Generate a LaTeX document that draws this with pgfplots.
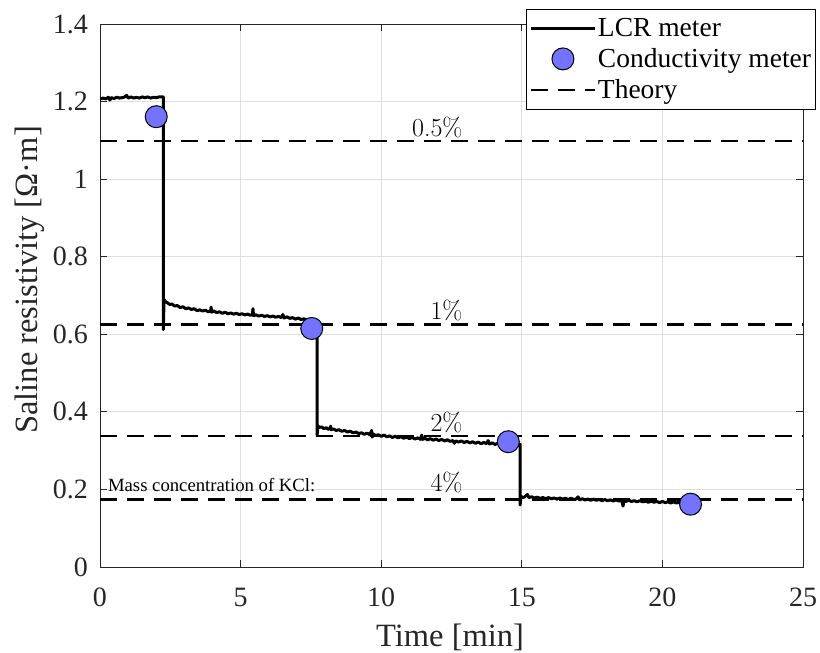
\documentclass[border=0pt]{standalone}
\usepackage{pgfplots}
\pgfplotsset{compat=1.18}
\usepackage{fontspec}
\setmainfont{Liberation Serif}
\definecolor{mkfill}{RGB}{115,115,255}
\definecolor{axgray}{RGB}{38,38,38}
\pgfplotsset{
  lineleg/.style={legend image code/.code={\draw[##1] (0pt,0pt) -- (64pt,0pt);}},
  markleg/.style={legend image code/.code={\draw[##1] plot coordinates {(32pt,0pt)};}},
}
\newcommand{\lmr}{\usefont{TU}{lmr}{m}{n}}
\begin{document}
\begin{tikzpicture}
\begin{axis}[
  scale only axis, width=703pt, height=543pt,
  xmin=0, xmax=25, ymin=0, ymax=1.4,
  xtick={0,5,10,15,20,25},
  ytick={0,0.2,0.4,0.6,0.8,1,1.2,1.4},
  grid=major, grid style={black!13, line width=0.8pt},
  axis line style={axgray, line width=0.9pt},
  tick style={axgray, line width=0.9pt},
  major tick length=7pt, tick align=inside,
  /pgf/number format/assume math mode=true,
  ticklabel style={font=\fontsize{28}{32}\selectfont, text=axgray},
  xticklabel style={anchor=base, yshift=-40pt, inner sep=0pt},
  yticklabel style={anchor=east, xshift=-12pt, inner sep=0pt},
  xlabel={Time [min]},
  ylabel={Saline resistivity [Ω·m]},
  label style={font=\fontsize{32.5}{36}\selectfont, text=axgray},
  xlabel style={at={(axis description cs:0.498,-0.1455)}, anchor=base},
  ylabel style={at={(axis description cs:-0.1,0.5286)}, anchor=center, rotate=0},
  legend cell align=left,
  legend style={at={(1.0185,1.0277)}, anchor=north east, draw=black, line width=0.9pt,
    font=\fontsize{27.5}{31}\selectfont, fill=white,
    inner xsep=3pt, inner ysep=7.5pt, row sep=7.5pt,
    nodes={inner sep=1.5pt}},
  unbounded coords=jump,
]
\addplot[black, line width=3pt, line join=round, lineleg]
coordinates {
(0.00,1.206) (0.10,1.209) (0.20,1.207) (0.30,1.211) (0.35,1.204) (0.40,1.210)
(0.50,1.208) (0.60,1.211) (0.70,1.209) (0.85,1.211) (0.95,1.216) (1.00,1.209)
(1.10,1.212) (1.20,1.209) (1.30,1.211) (1.40,1.209) (1.50,1.212) (1.60,1.210)
(1.70,1.212) (1.80,1.209) (1.90,1.211) (2.00,1.210) (2.10,1.212) (2.25,1.212)
(2.25,0.612) (2.28,0.690) (2.33,0.684) (2.40,0.681) (2.48,0.677) (2.56,0.678)
(2.65,0.673) (2.75,0.674) (2.85,0.669) (2.95,0.671) (3.05,0.666) (3.15,0.668)
(3.25,0.664) (3.35,0.666) (3.45,0.661) (3.55,0.663) (3.65,0.660) (3.75,0.662)
(3.85,0.658) (3.93,0.660) (3.95,0.670) (3.97,0.657) (4.05,0.660) (4.15,0.656)
(4.25,0.658) (4.35,0.654) (4.45,0.657) (4.55,0.653) (4.65,0.655) (4.75,0.652)
(4.85,0.654) (4.95,0.651) (5.05,0.653) (5.15,0.650) (5.25,0.652) (5.35,0.649)
(5.42,0.651) (5.44,0.666) (5.46,0.648) (5.55,0.650) (5.65,0.647) (5.75,0.649)
(5.85,0.646) (5.95,0.648) (6.05,0.645) (6.15,0.647) (6.25,0.644) (6.35,0.646)
(6.45,0.643) (6.50,0.651) (6.55,0.642) (6.65,0.645) (6.75,0.641) (6.85,0.643)
(6.95,0.639) (7.05,0.642) (7.15,0.638) (7.25,0.640) (7.35,0.636) (7.45,0.639)
(7.55,0.635) (7.65,0.637) (7.72,0.635)
(7.72,0.340) (7.75,0.364) (7.80,0.360) (7.88,0.361) (7.96,0.357) (8.05,0.359)
(8.12,0.355) (8.18,0.357) (8.20,0.363) (8.22,0.354) (8.30,0.356) (8.40,0.352)
(8.50,0.354) (8.60,0.350) (8.70,0.352) (8.80,0.348) (8.90,0.350) (9.00,0.346)
(9.10,0.348) (9.20,0.344) (9.30,0.346) (9.40,0.342) (9.50,0.345) (9.60,0.341)
(9.66,0.352) (9.68,0.335) (9.72,0.343) (9.80,0.339) (9.90,0.341) (10.00,0.337)
(10.10,0.340) (10.20,0.336) (10.30,0.338) (10.40,0.334) (10.50,0.337) (10.60,0.333)
(10.70,0.336) (10.80,0.332) (10.90,0.335) (11.00,0.331) (11.10,0.334) (11.20,0.330)
(11.30,0.333) (11.40,0.329) (11.44,0.340) (11.48,0.329) (11.55,0.332) (11.65,0.328)
(11.75,0.331) (11.85,0.327) (11.95,0.330) (12.05,0.326) (12.15,0.329) (12.25,0.325)
(12.35,0.328) (12.45,0.324) (12.55,0.326) (12.60,0.319) (12.65,0.325) (12.75,0.322)
(12.85,0.325) (12.95,0.321) (13.05,0.324) (13.15,0.320) (13.25,0.323) (13.35,0.319)
(13.45,0.322) (13.55,0.318) (13.65,0.321) (13.75,0.318) (13.80,0.326) (13.85,0.317)
(13.95,0.320) (14.05,0.316) (14.15,0.319) (14.25,0.315) (14.35,0.318) (14.45,0.315)
(14.55,0.317) (14.65,0.314) (14.75,0.316) (14.85,0.314) (14.94,0.316)
(14.94,0.160) (14.97,0.182) (15.05,0.179) (15.12,0.182) (15.20,0.187) (15.25,0.179)
(15.35,0.181) (15.45,0.178) (15.55,0.180) (15.65,0.177) (15.75,0.179) (15.85,0.176)
(15.95,0.179) (16.05,0.176) (16.15,0.178) (16.25,0.175) (16.35,0.178) (16.45,0.175)
(16.55,0.177) (16.65,0.174) (16.75,0.177) (16.85,0.174) (16.95,0.176) (17.00,0.181)
(17.05,0.173) (17.15,0.176) (17.25,0.173) (17.35,0.175) (17.45,0.172) (17.55,0.175)
(17.65,0.172) (17.75,0.174) (17.85,0.171) (17.95,0.174) (18.05,0.171) (18.15,0.173)
(18.25,0.170) (18.35,0.173) (18.45,0.170) (18.55,0.172) (18.60,0.157) (18.63,0.171)
(18.70,0.169) (18.80,0.172) (18.90,0.169) (19.00,0.171) (19.10,0.168) (19.20,0.171)
(19.30,0.168) (19.40,0.170) (19.50,0.167) (19.60,0.170) (19.70,0.167) (19.80,0.169)
(19.90,0.166) (20.00,0.169) (20.10,0.166) (20.20,0.168) (20.30,0.165) (20.40,0.168)
(20.50,0.165) (20.60,0.167) (20.70,0.165) (20.90,0.166)
};
\addlegendentry{LCR meter}
\addplot[only marks, mark=*, mark size=11pt, mark options={fill=mkfill, draw=black, line width=1pt}, markleg]
coordinates {(2.0,1.161) (7.53,0.615) (14.52,0.323) (21.0,0.162)};
\addlegendentry{Conductivity meter}
\addplot[black, line width=2.7pt, dash pattern=on 17pt off 10pt, lineleg]
coordinates {(0,1.098) (25,1.098) (0,nan) (0,0.625) (25,0.625) (0,nan)
 (0,0.338) (25,0.338) (0,nan) (0,0.174) (25,0.174)};
\addlegendentry{Theory}
\node[anchor=base east, font=\fontsize{26}{30}\lmr, inner sep=0pt] at (axis cs:12.9,1.110) {0.5\%};
\node[anchor=base east, font=\fontsize{26}{30}\lmr, inner sep=0pt] at (axis cs:12.9,0.637) {1\%};
\node[anchor=base east, font=\fontsize{26}{30}\lmr, inner sep=0pt] at (axis cs:12.9,0.349) {2\%};
\node[anchor=base east, font=\fontsize{26}{30}\lmr, inner sep=0pt] at (axis cs:12.9,0.194) {4\%};
\node[anchor=base west, font=\fontsize{18.7}{22}\selectfont, inner sep=0pt] at (axis cs:0.28,0.194) {Mass concentration of KCl:};
\end{axis}
\pgfresetboundingbox
\path (-100pt,-86pt) rectangle (720pt,567pt);
\end{tikzpicture}
\end{document}
